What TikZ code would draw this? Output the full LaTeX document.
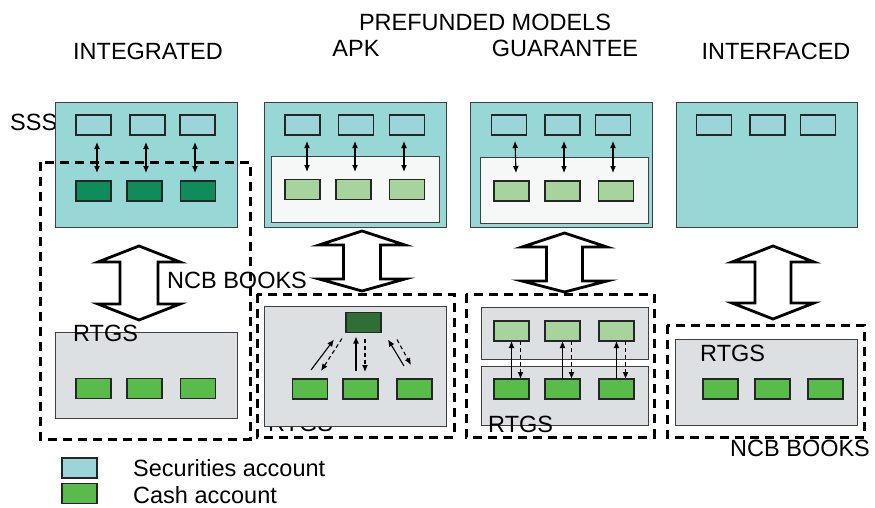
\documentclass[tikz,border=0pt]{standalone}
\usepackage{fontspec}
\setmainfont{Liberation Sans}
\usetikzlibrary{arrows.meta}
\definecolor{sssc}{HTML}{97D7D6}
\definecolor{secc}{HTML}{9CD5D9}
\definecolor{dkg}{HTML}{108C5A}
\definecolor{dkgb}{HTML}{2F6E36}
\definecolor{lgc}{HTML}{A6D49C}
\definecolor{cashc}{HTML}{58BB4A}
\definecolor{grayc}{HTML}{DDE0E3}
\definecolor{whc}{HTML}{F6F8F8}
\newcommand\rbox[6]{\node[#2, minimum width={#5-#3}, minimum height={#6-#4}] (#1) at ({(#3+#5)/2},{(#4+#6)/2}) {};}
\newcommand\bigarrow[8]{\draw[bigar] (#2,#5) -- (#2+#3,#6) -- (#2+#4,#6) -- (#2+#4,#7) -- (#2+#3,#7) -- (#2,#8) -- (#2-#3,#7) -- (#2-#4,#7) -- (#2-#4,#6) -- (#2-#3,#6) -- cycle;\coordinate (#1) at (#2,{(#5+#8)/2});}
\tikzset{
  base/.style={rectangle, inner sep=0pt, outer sep=0pt},
  panel/.style={base, draw=black!75, line width=0.9pt},
  ssspanel/.style={panel, fill=sssc},
  graypanel/.style={panel, fill=grayc},
  whpanel/.style={panel, fill=whc},
  acc/.style={base, draw=black!85, line width=1.1pt, minimum width=35, minimum height=20},
  sec/.style={acc, fill=secc},
  cash/.style={acc, fill=cashc},
  lg/.style={acc, fill=lgc},
  dk/.style={acc, fill=dkg},
  dkb/.style={acc, fill=dkgb},
  ncb/.style={draw=black, line width=3pt, dash pattern=on 9pt off 6pt},
  bigar/.style={draw=black, line width=2.8pt, fill=white, line join=miter},
  tip/.style={-{Latex[length=7pt,width=6pt]}, line width=1.1pt},
  dbl/.style={{Latex[length=7pt,width=6pt]}-{Latex[length=7pt,width=6pt]}, line width=1.1pt},
  dtip/.style={tip, dash pattern=on 4pt off 3pt},
  lbl/.style={inner sep=0pt, font=\fontsize{23.5}{26}\selectfont},
}
\begin{document}
\begin{tikzpicture}[x=1pt,y=-1pt]
\useasboundingbox (0,0) rectangle (875,508);
% titles
\node[lbl, anchor=base] (tpre) at (485,30.5) {PREFUNDED MODELS};
\node[lbl, anchor=base] (tint) at (148,59.5) {INTEGRATED};
\node[lbl, anchor=base] (tapk) at (356,56.5) {APK};
\node[lbl, anchor=base] (tgua) at (565,56.5) {GUARANTEE};
\node[lbl, anchor=base] (tifc) at (776,59.5) {INTERFACED};
\node[lbl, anchor=base west] (tsss) at (10,131) {SSS};

% ===== Panel 1 : integrated
\rbox{sss1}{ssspanel}{55}{102}{237}{227}
\node[sec] (s1a) at (93.5,125) {};
\node[sec] (s1b) at (147.5,125) {};
\node[sec] (s1c) at (197.5,125) {};
\node[dk] (d1a) at (93.5,191) {};
\node[dk] (d1b) at (144.5,191) {};
\node[dk] (d1c) at (198,191) {};
\draw[dbl] ([shift={(3.5,7)}]s1a.south) -- ([shift={(3.5,-8)}]d1a.north);
\draw[dbl] ([shift={(-1.5,7)}]s1b.south) -- ([shift={(1.5,-8)}]d1b.north);
\draw[dbl] ([shift={(-2.5,7)}]s1c.south) -- ([shift={(-3,-8)}]d1c.north);
\rbox{rtgs1}{graypanel}{55}{332}{237}{418}
\node[cash] (c1a) at (93.5,388.5) {};
\node[cash] (c1b) at (144.5,388.5) {};
\node[cash] (c1c) at (198,388.5) {};
\bigarrow{ar1}{139}{41}{19}{246}{262}{304}{320}
\node[lbl, anchor=base west] (rt1) at (73,341.5) {RTGS};
\node[lbl, anchor=base west] (nb1) at (167,288.5) {NCB BOOKS};
\rbox{ncb1}{base}{40}{162}{250}{439}
\draw[ncb] (ncb1.north west) rectangle (ncb1.south east);

% ===== Panel 2 : APK
\rbox{sss2}{ssspanel}{264}{102}{446}{227}
\node[sec] (s2a) at (302.5,125) {};
\node[sec] (s2b) at (356,125) {};
\node[sec] (s2c) at (407,125) {};
\rbox{wh2}{whpanel}{271}{156}{439}{222}
\node[lg] (l2a) at (302.5,189.5) {};
\node[lg] (l2b) at (353.5,189.5) {};
\node[lg] (l2c) at (407,189.5) {};
\draw[dbl] ([shift={(4.5,6)}]s2a.south) -- ([shift={(4.5,-7.5)}]l2a.north);
\draw[dbl] ([shift={(-1,6)}]s2b.south) -- ([shift={(1.5,-7.5)}]l2b.north);
\draw[dbl] ([shift={(-3,6)}]s2c.south) -- ([shift={(-3,-7.5)}]l2c.north);
\bigarrow{ar2}{362}{43}{18.5}{231}{245}{279}{291}
\rbox{ncb2}{base}{257}{294}{454}{437}
\draw[ncb] (ncb2.north west) rectangle (ncb2.south east);
\node[lbl, anchor=base west] (rt2) at (268,431) {RTGS};
\rbox{rtgs2}{graypanel}{264}{306}{446}{426}
\node[dkb] (d2) at (363.5,322.5) {};
\node[cash] (c2a) at (310,389) {};
\node[cash] (c2b) at (360.5,389) {};
\node[cash] (c2c) at (414.5,389) {};
\draw[tip] ([shift={(1,-9)}]c2a.north) -- ([shift={(-29.5,7)}]d2.south);
\draw[dtip] ([shift={(-21.5,6)}]d2.south) -- ([shift={(11,-8)}]c2a.north);
\draw[tip] ([shift={(-4.5,-8)}]c2b.north) -- ([shift={(-7.5,4)}]d2.south);
\draw[dtip] ([shift={(1.5,6)}]d2.south) -- ([shift={(4.5,-7)}]c2b.north);
\draw[tip] ([shift={(-10.5,-13)}]c2c.north) -- ([shift={(24.5,7)}]d2.south);
\draw[dtip] ([shift={(33.5,7)}]d2.south) -- ([shift={(-3.5,-14)}]c2c.north);

% ===== Panel 3 : guarantee
\rbox{sss3}{ssspanel}{470}{102}{652}{227}
\node[sec] (s3a) at (509,125) {};
\node[sec] (s3b) at (562.5,125) {};
\node[sec] (s3c) at (613,125) {};
\rbox{wh3}{whpanel}{480}{157}{648}{223}
\node[lg] (l3a) at (511.5,191) {};
\node[lg] (l3b) at (562.5,191) {};
\node[lg] (l3c) at (616,191) {};
\draw[dbl] ([shift={(6,6)}]s3a.south) -- ([shift={(4.5,-8)}]l3a.north);
\draw[dbl] ([shift={(1.5,6)}]s3b.south) -- ([shift={(1.5,-8)}]l3b.north);
\draw[dbl] ([shift={(0,6)}]s3c.south) -- ([shift={(-3,-8)}]l3c.north);
\bigarrow{ar3}{564.5}{42.5}{18}{233}{247}{281}{292}
\rbox{ncb3}{base}{466}{294}{654}{437}
\draw[ncb] (ncb3.north west) rectangle (ncb3.south east);
\rbox{up3}{graypanel}{481}{307}{648}{359}
\rbox{rtgs3}{graypanel}{481}{366}{648}{425}
\node[lg] (m3a) at (511.5,331) {};
\node[lg] (m3b) at (562.5,331) {};
\node[lg] (m3c) at (616.5,331) {};
\node[cash] (c3a) at (511.5,389) {};
\node[cash] (c3b) at (562.5,389) {};
\node[cash] (c3c) at (616.5,389) {};
\foreach \i in {a,b,c}{
  \draw[tip] ([xshift=0pt]c3\i.north) -- ([xshift=0pt]m3\i.south);
  \draw[dtip] ([xshift=9pt]m3\i.south) -- ([xshift=9pt]c3\i.north);
}
\node[lbl, anchor=base west] (rt3) at (488,432.5) {RTGS};

% ===== Panel 4 : interfaced
\rbox{sss4}{ssspanel}{676}{102}{857}{227}
\node[sec] (s4a) at (714,125) {};
\node[sec] (s4b) at (767.5,125) {};
\node[sec] (s4c) at (818,125) {};
\bigarrow{ar4}{773}{41}{18}{246}{262}{303}{319}
\rbox{ncb4}{base}{667}{325}{864}{437}
\draw[ncb] (ncb4.north west) rectangle (ncb4.south east);
\rbox{rtgs4}{graypanel}{675}{339}{857}{425}
\node[cash] (c4a) at (720.5,389) {};
\node[cash] (c4b) at (772.5,389) {};
\node[cash] (c4c) at (825.5,389) {};
\node[lbl, anchor=base west] (rt4) at (700,361.5) {RTGS};
\node[lbl, anchor=base west] (nb4) at (730,456.5) {NCB BOOKS};

% ===== Legend
\node[sec] (lsec) at (79.5,468) {};
\node[cash] (lcash) at (79.5,493.5) {};
\node[lbl, anchor=base west] (tsec) at (133,476.5) {Securities account};
\node[lbl, anchor=base west] (tcash) at (133,503.5) {Cash account};
\end{tikzpicture}
\end{document}
